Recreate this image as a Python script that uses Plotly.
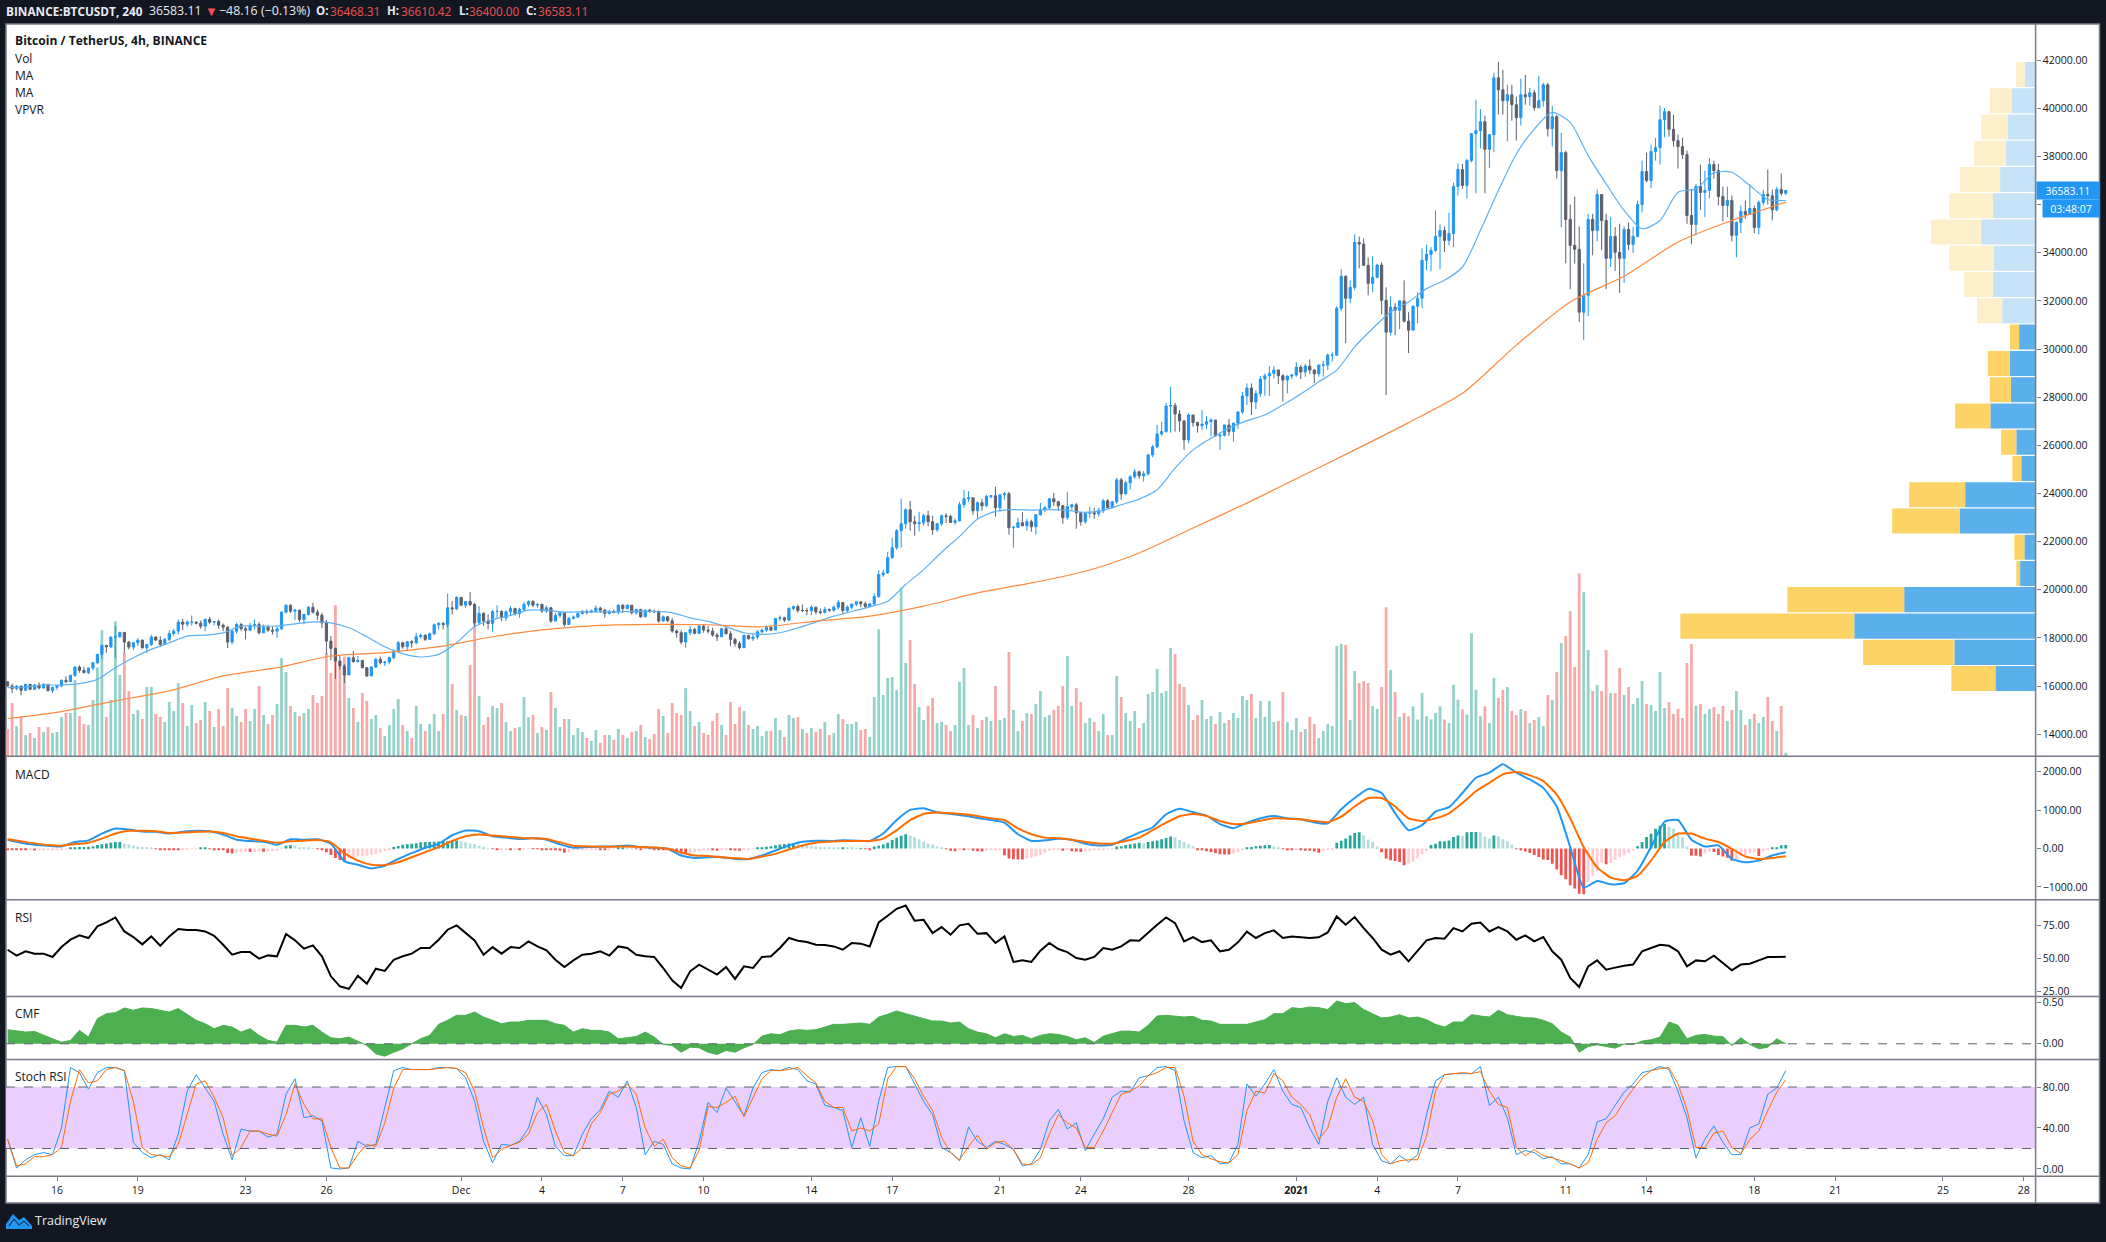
import pandas as pd
import plotly.graph_objects as go

W, H = 2106, 1242

#4h candles
first_open = 16180
closes = [
    16003,15893,16003,15824,16072,15865,16044,15920,16072,15810,
    15948,16003,16238,16183,16445,16790,16650,16556,16749,16970,
    17315,17688,17633,18033,18049,18230,17826,17619,17798,17909,
    17591,17729,18033,17909,17729,17937,18185,18282,18655,18572,
    18655,18655,18613,18489,18765,18655,18682,18530,18447,17826,
    18282,18558,18378,18323,18516,18558,18213,18447,18323,18282,
    18378,19069,19359,19110,19152,18765,18972,19276,19069,18945,
    18627,17867,17564,17039,16832,16461,17179,17013,17069,16765,
    16420,16792,17110,16972,17000,17179,17455,17801,17635,17842,
    17801,18049,18104,17939,18174,18546,18601,18560,19251,19209,
    19679,19361,19513,19389,18629,19016,18698,18601,19099,19099,
    18836,19085,19223,19016,19182,19389,19513,19361,19389,19113,
    19251,18698,18933,19043,18560,18809,18864,19016,19099,19071,
    19127,19237,19154,19016,19099,19071,19361,19223,19361,19043,
    19182,18878,19154,19099,19085,18698,18878,18712,18284,18215,
    17828,18215,18353,18187,18491,18326,18284,18118,18049,18381,
    18174,17939,17773,17594,18104,17966,18036,18256,18325,18436,
    18325,18808,18835,18739,19222,19305,19139,19139,19125,19277,
    19084,19056,19181,19153,19277,19471,19139,19277,19402,19498,
    19415,19305,19415,19719,20631,20700,21335,21749,22454,22744,
    23324,22826,22744,22785,23075,22826,22495,22744,23075,23047,
    22799,22868,23531,23779,23821,23282,23614,23489,23876,23904,
    23406,23945,23986,22578,22592,22785,22661,22826,22619,23116,
    23324,23406,23779,23655,23489,22992,23448,23531,23199,22826,
    23185,23199,23158,23282,23697,23406,23655,24566,23986,24442,
    24691,24898,24732,24815,25602,25934,26474,26571,27634,27648,
    27303,27013,26226,27261,26944,26820,26875,26985,27054,26391,
    26419,26847,26571,26916,27386,28049,28380,27800,28145,28753,
    28891,28988,29126,28891,28711,28877,28919,29250,29043,29292,
    29126,28974,29333,29333,29747,29747,31694,33020,32109,32564,
    34429,34360,33476,32730,32979,33490,32026,30700,31736,31612,
    31998,31156,30783,31777,32109,33683,33933,34099,34679,34928,
    34513,34803,36750,37455,36792,37828,38946,39071,39443,38297,
    38905,41266,40769,40313,40562,40148,39609,40562,40479,40645,
    40023,40313,40976,39153,39651,37413,38159,35383,34306,34141,
    31530,32235,35383,34928,36419,35342,33768,34679,34016,33768,
    34969,34347,34679,36005,37372,37000,38201,38366,39526,39858,
    39126,38656,38408,38076,35549,35176,36750,36502,36585,37662,
    37413,36336,35963,36170,34720,35259,35715,35590,35839,35052,
    36088,36419,36364,35784,36626,36468,36583.11,
]
highs = [
    16210,16100,16030,16003,16100,16086,16086,16155,16127,16044,
    15975,16031,16279,16404,16459,16818,16859,16804,16776,16997,
    17343,17716,17716,18061,18489,18250,18240,17867,17830,17990,
    17930,17750,18130,18075,18075,18005,18323,18378,18765,18793,
    18737,18931,18696,18724,18807,18876,18696,18765,18599,18489,
    18351,18627,18627,18461,18627,18765,18655,18558,18530,18461,
    18461,19110,19400,19386,19207,19179,19014,19317,19456,19179,
    19041,18740,18075,17591,17248,16903,17220,17455,17248,17069,
    16765,16834,17179,17220,17041,17220,17525,17870,17842,17870,
    17911,18215,18187,18160,18215,18601,18657,18657,19845,19527,
    19734,19706,19527,19900,19458,19320,19071,18975,19154,19348,
    19154,19140,19320,19251,19251,19486,19555,19569,19458,19431,
    19348,19292,19043,19113,19016,18878,18933,19071,19154,19182,
    19182,19348,19292,19209,19182,19182,19389,19389,19389,19361,
    19209,19209,19182,19209,19182,19154,18933,18905,18836,18353,
    18325,18243,18491,18422,18560,18560,18491,18422,18215,18422,
    18463,18284,18008,17870,18146,18132,18215,18325,18381,18519,
    18519,18835,18932,18877,19277,19346,19388,19388,19250,19360,
    19291,19222,19291,19222,19346,19567,19471,19360,19429,19512,
    19512,19512,19457,19857,20810,20838,21570,22164,22523,23779,
    23379,23696,23075,23241,23158,23282,23075,22771,23116,23185,
    23103,22965,23655,24152,24097,23821,23669,23779,23945,23931,
    24276,23973,24069,24069,22661,22992,23227,22951,22909,23144,
    23614,23489,23821,24028,23697,23531,24069,23572,23614,23227,
    23241,23448,23406,23406,23766,23779,23683,24649,24649,24525,
    24774,25022,24953,24926,25644,26017,26847,26985,27759,28435,
    27772,27469,27054,27330,27261,26985,27469,27220,27123,27054,
    26530,26861,27096,26944,27413,28214,28573,28573,28297,28877,
    28988,29292,29292,29153,28960,28905,28960,29457,29333,29374,
    29568,29167,29360,29512,29816,29871,31777,33310,33062,32854,
    34760,34677,34595,33807,33849,33545,33600,32564,32192,31902,
    32026,32854,31529,31819,32357,34180,34334,34237,35756,35176,
    35093,35660,36916,37717,37690,37911,38974,40355,39968,39692,
    38932,41474,41929,41598,40976,40976,40479,41225,41391,40852,
    40769,41349,41059,41059,40106,39733,38988,38242,36005,36336,
    35093,33560,35618,35618,36626,36419,35618,35480,35065,35204,
    35093,35259,35065,36170,37828,38159,38491,38767,40106,40010,
    39899,39733,38905,38781,38242,36654,36861,37662,37413,37938,
    37828,37690,36750,36750,36378,35300,35963,36170,36833,35963,
    36170,36612,37455,36612,36750,37289,36610.42,
]
lows = [
    15975,15700,15825,15616,15796,15837,15837,15865,15893,15782,
    15713,15837,15948,16114,16183,16376,16556,16528,16500,16652,
    16901,17108,17384,17577,17177,18000,17357,17522,17495,17660,
    17550,17384,17660,17867,17633,17700,17867,18075,18144,18323,
    18461,18516,18558,18378,18282,18572,18516,18378,18282,17577,
    17729,18185,18282,17937,18282,18351,18144,18199,18254,18144,
    18005,18323,19014,19041,18737,18655,18572,18931,19014,18737,
    18420,17317,17080,16300,16700,16116,16461,16972,16972,16724,
    16379,16420,16751,16903,16834,16903,17110,17386,17552,17497,
    17594,17732,17966,17870,17939,18104,18353,18353,18422,18975,
    19154,19320,19251,19320,18490,18560,18491,18353,18256,18836,
    18698,18698,18905,18933,18836,19113,19292,19292,19251,19043,
    19043,18629,18698,18836,18463,18560,18767,18836,18975,18975,
    19043,19043,19043,18836,18975,19016,18975,19043,19182,18975,
    18975,18836,18878,19043,19043,18629,18698,18657,18215,18008,
    17732,17594,18104,18146,18230,18215,18187,18049,17870,18049,
    18146,17663,17635,17525,17594,17939,17870,17939,18187,18243,
    18284,18393,18697,18656,18725,19139,19043,19070,18946,18946,
    18981,18981,19015,19084,19084,19181,18974,19043,19181,19319,
    19277,19236,19277,19346,19664,20534,20672,21294,21666,21749,
    22536,22454,22246,22426,22661,22633,22288,22412,22661,22771,
    22771,22702,22826,23406,23655,23116,22951,23282,23448,23793,
    23034,23241,23738,22288,21749,22578,22633,22454,22412,22288,
    23075,23241,23324,23489,23282,22744,22909,23324,22536,22661,
    22744,22992,22951,23034,23185,23393,23393,23572,23738,23945,
    24152,24608,24608,24497,24746,25506,25880,26405,26530,26530,
    26571,26571,25811,26088,26778,26530,26640,26681,26364,26364,
    25811,26364,26391,26157,26681,27303,27676,27261,27510,28021,
    28062,28049,28781,28546,27814,28159,28753,28850,28753,28850,
    28960,28587,28850,28850,29126,29471,29706,31570,30244,31902,
    32440,33352,33448,32233,32357,32937,31446,28090,30562,30576,
    30824,31101,29830,30783,31073,31694,33270,33229,34030,33312,
    34030,34306,34237,36378,36654,36253,37759,36474,38339,36474,
    37524,38173,39733,39733,38629,39485,38656,39278,40148,40106,
    39899,40010,40065,38822,38408,37082,35052,33560,32483,33546,
    31130,30370,31365,33892,34472,34099,32483,33408,33243,32331,
    32746,34099,33989,34638,35673,36916,36681,37828,37662,38794,
    38822,38408,37496,37897,35204,34348,34720,35784,35480,36253,
    37082,35963,35300,35480,34472,33809,34817,35411,35590,34817,
    34762,35963,36005,35342,35715,36364,36400,
]
volumes = [
    82,160,91,120,64,70,55,88,73,88,
    70,73,118,130,130,229,121,97,94,169,
    267,379,118,169,406,244,310,196,127,139,
    112,208,208,127,118,103,163,136,220,160,
    91,154,100,109,163,136,88,142,91,205,
    145,121,103,142,106,142,211,124,97,124,
    157,295,253,151,133,121,130,142,184,160,
    181,310,250,454,268,300,175,145,103,190,
    166,112,124,85,61,94,142,172,94,76,
    55,151,97,76,97,127,76,127,397,217,
    139,124,121,274,457,181,94,118,151,145,
    160,103,76,85,88,178,118,124,70,88,
    79,193,145,88,112,112,64,85,73,55,
    46,79,40,64,64,49,82,64,55,73,
    76,94,58,52,67,142,121,70,160,130,
    124,205,136,91,103,70,64,106,130,94,
    64,163,97,148,136,94,82,91,61,76,
    76,115,79,58,124,115,118,82,70,85,
    73,82,103,64,70,127,112,97,97,103,
    79,82,58,178,382,184,235,238,199,507,
    280,349,217,148,109,151,175,100,103,94,
    76,94,223,265,94,124,85,109,118,106,
    211,109,115,313,139,76,106,130,127,157,
    196,118,124,139,151,211,301,151,205,163,
    100,115,103,76,127,64,64,241,178,130,
    106,136,85,100,187,193,262,190,196,325,
    307,217,208,154,109,124,169,112,121,97,
    133,100,109,130,115,181,169,187,115,166,
    118,166,103,106,193,103,79,115,73,82,
    118,97,55,76,97,91,331,337,334,109,
    256,220,226,220,151,142,208,448,259,193,
    118,130,120,150,110,190,120,110,130,150,
    110,100,215,170,140,125,370,200,120,150,
    100,235,175,199,208,136,124,142,136,100,
    109,118,91,184,169,253,340,361,436,268,
    550,493,319,196,214,196,319,190,190,265,
    184,208,157,175,226,157,154,136,253,145,
    163,127,142,115,280,337,151,157,127,142,
    148,127,151,106,139,196,139,94,112,127,
    100,118,178,106,76,151,10,
]
#moving averages, one reading every 4 and every 12 candles
ma_fast = [
    15934,15962,16044,16044,16100,16279,16763,17177,17522,17798,
    18075,18116,18213,18489,18489,18489,18586,18668,18627,18420,
    18050,17635,17345,17207,17318,17801,18464,18767,18933,19154,
    19154,19071,19085,19085,19085,19099,19099,19043,18836,18685,
    18463,18215,18146,18215,18422,18657,18905,19099,19292,19527,
    20217,20839,21557,22220,22938,23256,23325,23311,23325,23297,
    23214,23297,23532,23767,24153,25051,25810,26294,26708,27026,
    27261,27676,28132,28642,29126,30092,30852,31542,31957,32509,
    32854,33408,34928,36585,38104,39139,39830,39416,38035,36861,
    35756,34997,35342,36516,36654,37317,37344,36792,36212,36170,
]
ma_slow = [
    14652,14942,15384,15798,16420,16765,17248,17386,17635,18049,
    18353,18519,18560,18546,18464,18698,18905,19320,19872,20287,
    20770,21530,22565,23601,24706,25810,26944,28159,30163,31958,
    33022,34444,35342,36101,
]
#volume profile rows, top to bottom
vp_price = [41400,40310,39220,38130,37040,35950,34860,33770,32680,31590,30500,29400,
            28310,27220,26130,25040,23950,22860,21770,20680,19590,18490,17400,16310]
vp_up = [10.8,23.6,27.8,29.8,35.5,42.7,54.5,41.6,42.7,33.4,16.5,25.7,
         24.7,45.2,19.3,14.3,70.4,76.1,11.2,15.5,131.4,181.3,81.2,40.2]
vp_total = [19.5,45.8,54.5,61.7,75.6,86.4,104.4,86.4,71.5,58.6,25.7,47.8,
            45.8,80.4,34.4,23.2,126.4,143.4,21.3,19.3,248.2,355.2,172.4,84.3]
#MACD lines, one reading every 3 candles
macd_line = [
    229,150,97,70,53,167,211,388,520,493,441,432,388,432,458,449,361,229,194,176,
    97,238,229,238,123,-335,-423,-520,-449,-273,-123,18,123,344,467,449,317,282,247,264,
    229,106,18,35,53,53,79,35,18,-9,-185,-247,
    -229,-229,-273,-273,-185,-53,79,176,203,194,211,203,194,388,740,1004,1048,943,899,855,
    793,740,670,370,194,211,255,229,123,79,97,255,414,546,890,1031,943,855,634,529,
    670,784,846,784,758,678,652,1022,1313,1551,1445,916,
    476,608,960,1075,1445,1841,1973,2194,1973,1797,1577,1092,35,-1022,-846,-934,-907,-581,35,696,
    740,229,53,79,-273,-361,-317,-185,-97,
]
macd_signal = [
    238,185,132,88,70,115,150,255,388,458,458,449,405,414,432,441,405,317,255,203,
    150,185,203,220,159,-123,-317,-423,-432,-361,-229,-97,35,194,317,361,335,308,273,264,
    247,159,70,53,44,44,53,35,26,-9,-106,-185,
    -194,-229,-255,-273,-211,-141,-26,79,150,176,194,194,194,255,476,740,899,934,916,890,
    846,784,740,520,370,282,264,229,167,132,123,194,282,476,670,837,899,846,714,634,
    652,722,784,775,758,714,678,828,1092,1313,1313,1092,
    784,714,784,916,1181,1489,1709,1929,1991,1903,1753,1401,784,35,-493,-758,-828,-714,-317,167,
    388,388,255,167,-9,-211,-273,-247,-203,
]
macd_hist = [
    -35,-40,-45,-50,-50,-45,-55,-45,-40,-35,-30,-25,-20,-15,10,20,35,35,45,60,
    90,110,130,150,170,170,130,100,75,50,35,25,10,-10,-20,-30,-35,-45,-50,-40,
    -30,-15,-10,10,10,-10,-30,-40,-50,-120,-130,-110,-100,-90,-95,-90,-80,-85,-80,-75,
    -60,-10,70,80,70,30,25,15,5,-10,-30,-100,-170,-250,-300,-330,-250,-230,-210,-200,
    -190,-170,-140,-110,-70,-40,35,65,95,110,120,135,160,170,170,175,180,185,190,200,
    210,180,160,130,115,70,45,5,-5,-50,-45,-40,-45,-40,-40,-15,-10,-15,-15,-30,
    -40,-50,-50,-60,-110,-100,-60,-50,-45,-40,-30,-20,-30,-30,-20,-10,10,15,10,5,
    -10,-20,-10,-15,-20,-30,-30,-50,-80,-100,-130,-140,-120,-100,-70,
    -50,-45,-50,-60,-35,-30,-40,-55,-60,-45,-30,-10,15,30,45,60,80,100,115,130,
    140,120,95,80,65,50,40,30,20,15,10,30,15,10,5,5,-5,-25,50,70,
    100,150,220,280,330,370,340,290,240,180,130,100,60,25,-10,-60,-70,-30,-30,-25,
    -60,-70,-80,-60,-50,-40,-30,-180,-260,-280,-290,-290,-260,-240,-210,-170,-110,-60,-40,-30,
    -60,-40,-70,-80,-90,-80,-70,-50,-40,-30,-15,-5,50,60,90,110,130,150,130,170,
    190,210,240,270,310,290,220,170,110,70,-20,-50,-70,-90,-120,-150,-160,-160,-130,-100,
    -30,20,40,60,70,80,90,50,20,-15,-20,-50,-40,-50,-60,-60,-80,-110,-60,-50,
    -40,150,200,260,340,400,420,340,230,170,50,-100,-260,-310,-330,-350,-440,-390,-340,-260,
    -150,-70,90,120,190,190,210,300,340,330,420,430,430,420,310,260,340,310,240,180,
    100,-10,-30,-80,-120,-170,-220,-290,-300,-400,-550,-700,-800,-960,-1040,-1180,-1190,-880,-720,-600,
    -370,-410,-380,-300,-230,-180,-120,-60,60,170,300,380,510,590,640,560,510,400,300,50,
    -190,-190,-210,-130,-80,-90,-170,-210,-240,-320,-310,-200,-170,-130,-100,-200,-70,-20,30,30,80,90,
]
#oscillators, one reading every 2 candles
rsi = [
    56.8,52.3,55.6,53.8,53.8,51.3,58.8,64.4,67.7,65.7,74.5,77.5,81.3,70.7,66.4,60.9,66.9,59.8,66.9,72.5,
    71.7,71.7,70.7,67.4,60.6,53,55,55,50,52.5,51.8,68.7,63.9,57.6,60.1,51.8,36.6,29,27,37.1,
    31,42.4,40.7,49.2,51.8,53.8,58.1,58.1,64.4,72,75.3,69.4,63.9,53,58.8,53.8,58.8,58.1,63.1,59.3,
    56.3,49.2,43.7,48.7,53,53.8,55.6,52.3,59.3,58.1,53,51.8,51.3,42.9,33.6,27.8,40.4,45.5,41.7,37.9,
    43.7,34.6,44.2,42.9,51.3,51.8,58.1,65.7,63.6,62.6,60.6,60.4,59.3,56.8,61.9,61.4,59.3,77.5,82.6,87.9,
    90.4,78.8,79.5,69.4,74,68.2,75.3,76.5,68.9,69.4,61.9,66.9,47.5,48.7,47.5,56.1,61.9,57.3,55,50.5,
    49.2,51.3,58.1,56.8,59.3,63.9,63.6,69.9,75.8,81.3,77,63.1,66.4,62.6,63.9,55.6,56.8,62.4,70.5,65.7,
    69.4,71.5,65.7,66.9,66.4,65.7,66.2,69.9,82.1,75.8,81.6,73.2,65.7,56.8,53,55.6,48,55.6,63.9,65.7,
    65.2,73.2,70.7,76.5,77.5,70.7,74,70.7,64.4,67.7,63.1,66.4,55.6,49.2,35.4,28.5,44.2,48.7,41.7,43.2,
    44.7,45.5,55.6,58.1,60.6,59.8,55.6,44.2,48.7,48,52.3,46.7,41.2,45.5,46.2,48.7,51.3,51.3,51.5,
]
cmf = [
    .171,.154,.142,.150,.102,.061,.020,.040,.163,.081,.305,.366,.378,.435,.407,.435,.427,.407,.386,.427,
    .358,.285,.244,.183,.224,.203,.142,.183,.102,.041,.020,.224,.224,.203,.224,.142,.073,.061,.081,.033,
    -.020,-.122,-.150,-.102,-.061,0,.061,.102,.236,.285,.346,.346,.386,.325,.285,.244,.264,.264,.285,.285,
    .285,.244,.224,.142,.183,.163,.163,.142,.061,.073,.089,.142,.081,-.008,-.020,-.102,-.041,-.049,
    -.102,-.130,-.081,-.102,-.049,-.008,.093,.122,.110,.154,.171,.163,.171,.203,.236,.236,.244,.252,.236,.325,
    .358,.398,.366,.333,.305,.276,.276,.252,.264,.183,.142,.122,.073,.122,.089,.102,.061,.102,.122,.114,
    .089,.049,.073,.016,.093,.122,.154,.154,.142,.224,.337,.346,.337,.325,.333,.285,.276,.236,.236,.236,
    .236,.264,.293,.366,.366,.439,.427,.447,.439,.415,.520,.488,.500,.415,.366,.313,.325,.354,
    .313,.325,.293,.236,.203,.264,.264,.354,.337,.325,.407,.354,.333,.317,.313,.285,.244,.142,.081,-.102,
    -.033,-.012,-.033,-.053,-.004,-.008,.033,.049,.081,.264,.224,.061,.102,.114,.093,.089,-.020,.073,-.008,-.061,
    -.041,.061,0,
]
stoch_k = [
    29,1,9,14,16,14,40,99,94,78,94,99,99,96,26,16,11,14,9,34,
    76,92,79,66,34,9,39,37,37,31,34,73,88,50,52,47,1,0,1,27,
    22,24,60,96,99,97,97,97,99,99,98,89,66,27,6,24,23,27,40,70,
    53,22,13,13,34,49,58,76,70,86,60,14,27,24,5,1,0,27,
    65,55,79,66,52,79,94,97,96,99,97,86,83,62,60,57,21,50,22,66,
    99,100,100,83,66,53,21,16,8,41,27,21,27,24,19,3,5,19,47,58,
    39,45,18,34,49,70,76,75,89,91,99,100,96,47,16,11,13,5,6,24,
    83,71,83,97,76,63,60,40,24,66,89,70,63,70,24,8,5,13,
    7,14,53,86,92,93,93,93,100,62,70,50,14,18,16,10,12,5,5,1,
    14,46,49,62,75,83,94,96,100,97,76,50,11,29,42,26,14,14,40,44,
    73,79,96,
]
stoch_d = [
    29,3,5,12,12,14,21,66,97,84,86,97,99,96,66,21,14,13,12,24,
    53,83,86,70,50,13,21,37,37,34,32,53,83,63,49,49,21,1,1,14,
    24,22,45,79,97,97,97,97,98,99,98,94,76,40,11,19,23,26,34,55,
    63,37,16,13,21,44,55,73,76,83,73,40,22,29,11,3,1,18,
    61,60,65,71,51,70,88,96,96,97,99,91,84,66,60,60,37,40,37,44,
    88,100,100,88,71,57,31,16,9,22,33,19,26,27,19,5,4,11,34,53,
    45,40,21,21,37,55,73,76,81,91,94,99,99,71,27,14,10,7,6,14,
    57,76,74,93,86,70,63,53,29,40,70,88,70,66,47,14,5,8,
    9,9,32,76,92,93,94,93,95,76,63,60,21,13,19,13,11,8,5,1,
    6,29,45,52,66,78,89,96,98,99,83,58,21,21,35,37,21,15,29,37,
    57,75,87,
]
tick_dates = ["2020-11-16","2020-11-19","2020-11-23","2020-11-26","2020-12-01","2020-12-04","2020-12-07",
              "2020-12-10","2020-12-14","2020-12-17","2020-12-21","2020-12-24","2020-12-28","2021-01-01",
              "2021-01-04","2021-01-07","2021-01-11","2021-01-14","2021-01-18","2021-01-21","2021-01-25","2021-01-28"]
tick_labels = ["16","19","23","26","Dec","4","7","10","14","17","21","24","28","<b>2021</b>",
               "4","7","11","14","18","21","25","28"]
price_ticks = list(range(14000, 42001, 2000))

dates = pd.date_range("2020-11-14 04:00", periods=len(closes), freq="4h")
opens = [first_open] + closes[:-1]

DARK = "#131722"
FRAME = "#787B86"
FONT = "Open Sans"
BLUE = "#2196F3"
ORANGE = "#FF6D00"
BAR_W = 4 * 3600 * 1000 * 0.62

def fx(px):
    return px / W

def fy(py):
    return 1 - py / H

#colors follow the candle direction / histogram momentum
vol_colors = ["#93D2CA" if c >= o else "#F7A9A7" for o, c in zip(opens, closes)]
hist_colors = []
for i, v in enumerate(macd_hist):
    prev = macd_hist[i - 1] if i else 0
    if v >= 0:
        hist_colors.append("#26A69A" if v >= prev else "#B2DFDB")
    else:
        hist_colors.append("#EF5350" if v <= prev else "#FFCDD2")
vp_blue = ["#C5E2F7" if i < 10 else "#5BB0EC" for i in range(len(vp_price))]
vp_gold = ["#FDEFC9" if i < 10 else "#FCD364" for i in range(len(vp_price))]

fig = go.Figure()
fig.add_bar(x=dates, y=volumes, marker_color=vol_colors, marker_line_width=0, width=BAR_W,
            xaxis="x", yaxis="y")
fig.add_candlestick(x=dates, open=opens, high=highs, low=lows, close=closes, xaxis="x", yaxis="y2",
                    increasing=dict(line=dict(color=BLUE, width=1), fillcolor=BLUE),
                    decreasing=dict(line=dict(color="#5D606B", width=1), fillcolor="#5D606B"),
                    whiskerwidth=0)
fig.add_scatter(x=dates[::4], y=ma_fast, mode="lines", line=dict(color="#5DB1F5", width=1.2, shape="spline", smoothing=0.7),
                xaxis="x", yaxis="y2")
fig.add_scatter(x=dates[::12], y=ma_slow, mode="lines", line=dict(color="#FF8A3D", width=1.2, shape="spline", smoothing=0.7),
                xaxis="x", yaxis="y2")
#VPVR hangs off the right edge on its own reversed axis
fig.add_bar(y=vp_price, x=vp_up, orientation="h", width=1040, marker_color=vp_blue, marker_line_width=0,
            xaxis="x2", yaxis="y2")
fig.add_bar(y=vp_price, x=[t - u for t, u in zip(vp_total, vp_up)], base=vp_up, orientation="h", width=1040,
            marker_color=vp_gold, marker_line_width=0, xaxis="x2", yaxis="y2")

fig.add_bar(x=dates, y=macd_hist, marker_color=hist_colors, marker_line_width=0, width=BAR_W,
            xaxis="x", yaxis="y3")
fig.add_scatter(x=dates[::3], y=macd_line, mode="lines", line=dict(color=BLUE, width=2, shape="spline", smoothing=0.5),
                xaxis="x", yaxis="y3")
fig.add_scatter(x=dates[::3], y=macd_signal, mode="lines", line=dict(color=ORANGE, width=2, shape="spline", smoothing=0.5),
                xaxis="x", yaxis="y3")
fig.add_scatter(x=dates[::2], y=rsi, mode="lines", line=dict(color="#000000", width=2), xaxis="x", yaxis="y4")
fig.add_scatter(x=dates[::2], y=cmf, mode="lines", line=dict(color="#4CAF50", width=1), fill="tozeroy",
                fillcolor="#4CAF50", xaxis="x", yaxis="y5")
fig.add_scatter(x=dates[::2], y=stoch_k, mode="lines", line=dict(color=BLUE, width=1), xaxis="x", yaxis="y6")
fig.add_scatter(x=dates[::2], y=stoch_d, mode="lines", line=dict(color=ORANGE, width=1), xaxis="x", yaxis="y6")

def right_axis(top, bottom, rng, ticks):
    return dict(domain=[fy(bottom), fy(top)], range=rng, anchor="x", side="right", tickvals=ticks,
                tickformat=".2f", ticks="outside", ticklen=4, tickcolor=FRAME, showgrid=False, zeroline=False,
                tickfont=dict(family=FONT, size=10.5, color="#131722"))

fig.update_layout(
    width=W, height=H, margin=dict(l=0, r=0, t=0, b=0), autosize=False,
    paper_bgcolor=DARK, plot_bgcolor="rgba(0,0,0,0)", showlegend=False, barmode="overlay",
    font=dict(family=FONT, size=11, color="#131722"),
    xaxis=dict(domain=[fx(6), fx(2035.6)], range=["2020-11-14 02:34", "2021-01-28 10:34"], type="date",
               anchor="y6", rangeslider=dict(visible=False), showgrid=False, zeroline=False,
               tickvals=tick_dates, ticktext=tick_labels, ticks="outside", ticklen=4, tickcolor=FRAME,
               tickfont=dict(family=FONT, size=10.5, color="#131722")),
    xaxis2=dict(domain=[fx(6), fx(2035.6)], range=[2029.6, 0], overlaying="x", visible=False, anchor="y2"),
    yaxis=dict(domain=[fy(757), fy(23)], range=[0, 2202], anchor="x", visible=False),
    #the 36000 label sits behind the countdown tag in the original, only its tick shows
    yaxis2=dict(right_axis(23, 757, [13088, 43504], price_ticks), overlaying="y",
                ticktext=["" if v == 36000 else f"{v}.00" for v in price_ticks]),
    yaxis3=right_axis(757, 901, [-1338, 2403], [-1000, 0, 1000, 2000]),
    yaxis4=right_axis(901, 998, [21.2, 94.7], [25, 50, 75]),
    yaxis5=right_axis(998, 1061, [-0.19, 0.573], [0, 0.5]),
    yaxis6=right_axis(1061, 1178, [-7, 106.9], [0, 40, 80]),
)

shapes = [
    dict(type="rect", xref="paper", yref="paper", x0=fx(6), x1=fx(2099.5), y0=fy(1205), y1=fy(23),
         fillcolor="#FFFFFF", line=dict(color=FRAME, width=1.5), layer="below"),
    dict(type="rect", xref="x domain", yref="y6", x0=0, x1=1, y0=20, y1=80, fillcolor="#E9CEFE",
         line_width=0, layer="below"),
    dict(type="line", xref="x domain", yref="y6", x0=0, x1=1, y0=80, y1=80, line=dict(color="#5D606B", width=1, dash="dash")),
    dict(type="line", xref="x domain", yref="y6", x0=0, x1=1, y0=20, y1=20, line=dict(color="#5D606B", width=1, dash="dash")),
    dict(type="line", xref="x domain", yref="y5", x0=0, x1=1, y0=0, y1=0, line=dict(color="#5D606B", width=1, dash="dash")),
    dict(type="line", xref="paper", yref="paper", x0=fx(2035.6), x1=fx(2035.6), y0=fy(1205), y1=fy(23),
         line=dict(color=FRAME, width=1.5)),
]
for py in [757, 901, 998, 1061, 1178]:
    shapes.append(dict(type="line", xref="paper", yref="paper", x0=fx(6), x1=fx(2099.5), y0=fy(py), y1=fy(py),
                       line=dict(color=FRAME, width=1.5)))

def poly(points):
    return "M " + " L ".join(f"{fx(x)},{fy(y)}" for x, y in points) + " Z"

#TradingView logo
shapes.append(dict(type="path", xref="paper", yref="paper", fillcolor=BLUE, line_width=0,
                   path=poly([(6, 1231), (6, 1226), (13, 1216), (19, 1222), (24, 1219), (32, 1228), (32, 1231)])))
shapes.append(dict(type="path", xref="paper", yref="paper", fillcolor="rgba(0,0,0,0)", line=dict(color=DARK, width=1),
                   path="M " + " L ".join(f"{fx(x)},{fy(y)}" for x, y in [(9, 1228), (14, 1221), (19, 1227), (24, 1223), (29, 1228)])))
fig.update_layout(shapes=shapes)

def label(px, py, text, color="#131722", size=12, **kw):
    fig.add_annotation(xref="paper", yref="paper", x=fx(px), y=fy(py), text=text, showarrow=False,
                       xanchor="left", yanchor="middle", borderpad=0,
                       font=dict(family=FONT, size=size, color=color), **kw)

RED = "#EF5350"
WHITE = "#E8EAF0"
label(5, 9.7, "<b>BINANCE:BTCUSDT, 240</b>", WHITE, 11.8)
label(148, 9.7, "36583.11", WHITE, 12.3)
label(204, 9.7, "▼", RED, 13)
label(218, 9.7, "−48.16 (−0.13%)", WHITE, 12.4)
for px, head, vx, val in [(315, "O:", 329, "36468.31"), (386, "H:", 400, "36610.42"),
                          (457.5, "L:", 468, "36400.00"), (525, "C:", 537, "36583.11")]:
    label(px, 9.7, f"<b>{head}</b>", WHITE, 11.5)
    label(vx, 9.7, val, RED, 11.8)

label(14, 40, "<b>Bitcoin / TetherUS, 4h, BINANCE</b>", size=12.1)
label(14, 57.3, "Vol")
label(14, 74.7, "MA")
label(14, 91.3, "MA")
label(14, 108.3, "VPVR")
label(14, 775, "MACD")
label(14, 919, "RSI")
label(14, 1015, "CMF")
label(14, 1078.5, "Stoch RSI")
label(34, 1222.5, "TradingView", WHITE, 12.5)

#last price and countdown tags on the price axis
fig.add_annotation(xref="paper", yref="paper", x=fx(2036), y=fy(190), text="36583.11", showarrow=False, xanchor="left",
                   yanchor="middle", width=60, height=15, bgcolor=BLUE, align="center",
                   font=dict(family=FONT, size=10.5, color="#FFFFFF"))
fig.add_annotation(xref="paper", yref="paper", x=fx(2042), y=fy(208.5), text="03:48:07", showarrow=False, xanchor="left",
                   yanchor="middle", width=54, height=15, bgcolor=BLUE, align="center",
                   font=dict(family=FONT, size=10.5, color="#FFFFFF"))

fig.write_html("out.html", config=dict(displayModeBar=False),
               post_script="document.body.style.margin='0';document.body.style.background='#131722';")
